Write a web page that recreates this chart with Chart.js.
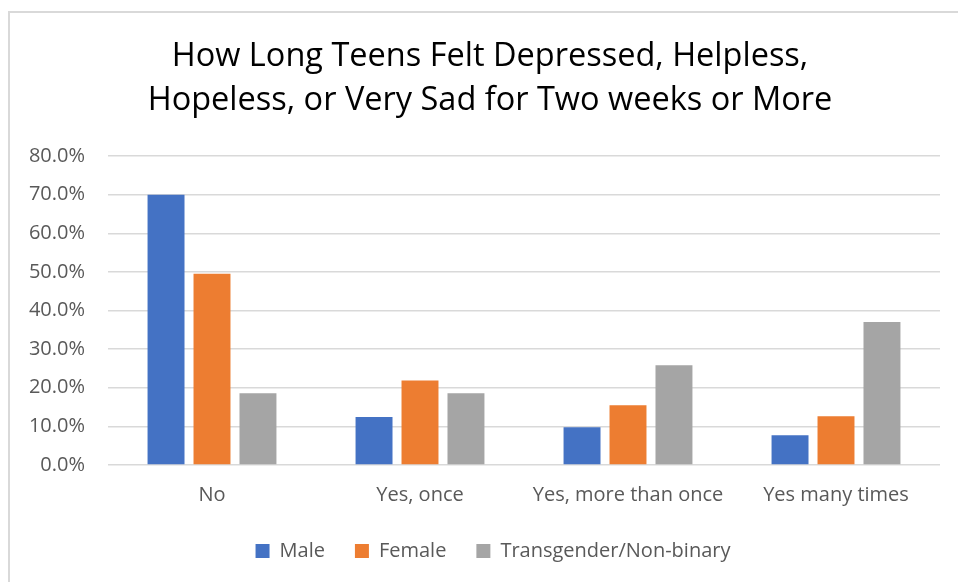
<!DOCTYPE html>
<html>
<head>
<meta charset="utf-8">
<script src="https://cdn.jsdelivr.net/npm/chart.js@4.4.1/dist/chart.umd.min.js"></script>
<style>
  html, body { margin: 0; padding: 0; background: #fff; overflow: hidden; }
  #frame {
    position: absolute; left: 8px; top: 11px;
    width: 1000px; height: 640px;
    border: 2px solid #d9d9d9; box-sizing: border-box;
  }
  #wrap { position: absolute; left: 0; top: 0; width: 958px; height: 582px; }
</style>
</head>
<body>
<div id="frame"></div>
<div id="wrap"><canvas id="chart" width="958" height="582"></canvas></div>
<script>
// How long teens felt depressed — grouped bars by gender identity
const CATEGORIES = ['No', 'Yes, once', 'Yes, more than once', 'Yes many times'];
const MALE = [70.0, 12.4, 9.8, 7.7];
const FEMALE = [49.5, 21.9, 15.5, 12.6];
const TRANS = [18.6, 18.6, 25.8, 37.0];
const Y_TICKS = [0, 10, 20, 30, 40, 50, 60, 70, 80];

const BLUE = '#4472C4';
const ORANGE = '#ED7D31';
const GRAY = '#A5A5A5';
const TEXT = '#595959';
const FONT = "'Open Sans', Lato, sans-serif";

Chart.defaults.font.family = FONT;
Chart.defaults.color = TEXT;

function ds(label, data, color) {
  return {
    label: label,
    data: data,
    backgroundColor: color,
    borderWidth: 0,
    barPercentage: 0.804,
    categoryPercentage: 0.663,
  };
}

// Excel centres title and legend a bit right of the canvas centre
const nudge = {
  id: 'nudge',
  afterLayout: function (chart) {
    if (chart.legend) {
      chart.legend.left += 13;
      chart.legend.right += 13;
    }
    if (chart.titleBlock) {
      chart.titleBlock.left += 10;
      chart.titleBlock.right += 10;
    }
  },
};

new Chart(document.getElementById('chart'), {
  type: 'bar',
  data: {
    labels: CATEGORIES,
    datasets: [
      ds('Male', MALE, BLUE),
      ds('Female', FEMALE, ORANGE),
      ds('Transgender/Non-binary', TRANS, GRAY),
    ],
  },
  plugins: [nudge],
  options: {
    responsive: false,
    animation: false,
    layout: { padding: { left: 20, right: 18, top: 0, bottom: 11 } },
    plugins: {
      title: {
        display: true,
        text: ['How Long Teens Felt Depressed, Helpless,', 'Hopeless, or Very Sad for Two weeks or More'],
        color: '#000',
        font: { size: 32.5, weight: 'normal', lineHeight: 1.354 },
        padding: { top: 35, bottom: 33 },
      },
      legend: {
        position: 'bottom',
        labels: {
          boxWidth: 14,
          boxHeight: 14,
          padding: 30,
          color: TEXT,
          font: { size: 20 },
        },
      },
      tooltip: { enabled: false },
    },
    scales: {
      x: {
        afterFit: function (scale) { scale.height = 46; },
        grid: { display: false, drawTicks: false },
        border: { display: false },
        ticks: { color: TEXT, font: { size: 20 }, padding: 18, maxRotation: 0 },
      },
      y: {
        min: 0,
        max: 80,
        afterBuildTicks: function (scale) {
          scale.ticks = Y_TICKS.map(function (v) { return { value: v }; });
        },
        afterFit: function (scale) { scale.width = 88; },
        grid: { color: '#d9d9d9', lineWidth: 1.5, drawTicks: false },
        border: { display: false },
        ticks: {
          color: TEXT,
          font: { size: 20 },
          padding: 23,
          callback: function (v) { return v.toFixed(1) + '%'; },
        },
      },
    },
  },
});
</script>
</body>
</html>
